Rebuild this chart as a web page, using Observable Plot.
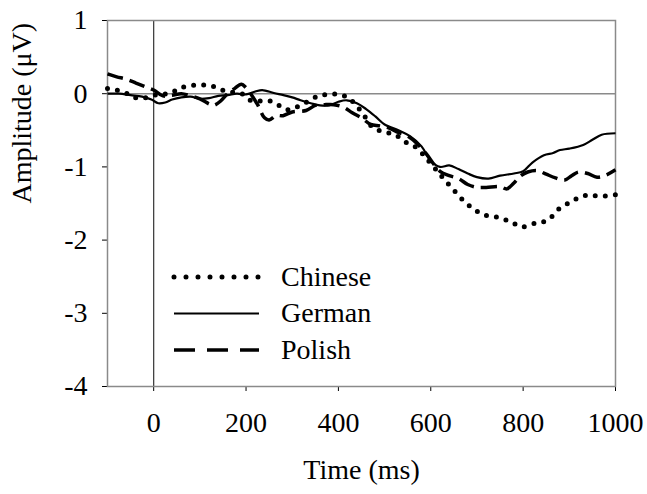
<!DOCTYPE html>
<html>
<head>
<meta charset="utf-8">
<script src="https://cdn.jsdelivr.net/npm/d3@7"></script>
<script src="https://cdn.jsdelivr.net/npm/@observablehq/plot@0.6"></script>
<style>
  html, body { margin: 0; padding: 0; background: #fff; }
  #wrap { position: relative; width: 647px; height: 494px; font-family: "Liberation Serif", "Times New Roman", serif; }
  #legend { position: absolute; left: 0; top: 0; }
</style>
</head>
<body>
<div id="wrap"></div>
<script>
// ---- data (time in ms, amplitude in µV) ----
const seriesNames = ["Chinese", "German", "Polish"];

const chineseT = [-100,-80,-60,-43,-22,0,20,40,58,80,105,128,148,170,191,209,231,253,274,290,310,330,357,381,403,422,440,455,476,500,525,548,570,590,613,628,653,671,696,718,740,761,779,797,819,838,857,874,891,908,927,947,970,1000];
const chineseV = [0.07,0.05,0.01,-0.05,-0.06,-0.02,-0.01,0.02,0.08,0.11,0.12,0.10,0.05,0.02,0.0,-0.09,-0.10,-0.10,-0.17,-0.22,-0.18,-0.12,-0.03,-0.01,-0.01,-0.06,-0.17,-0.29,-0.47,-0.52,-0.57,-0.67,-0.74,-0.88,-1.05,-1.16,-1.34,-1.46,-1.59,-1.66,-1.68,-1.72,-1.77,-1.82,-1.78,-1.76,-1.71,-1.59,-1.52,-1.46,-1.40,-1.39,-1.40,-1.38];

const germanT = [-100,-75,-50,-25,-5,10,25,40,60,80,100,120,140,160,180,200,220,235,260,281,300,318,340,360,380,400,418,440,460,480,500,530,555,580,600,620,640,660,680,700,725,750,780,800,820,845,865,880,900,930,950,970,1000];
const germanV = [0.0,0.0,-0.02,-0.04,-0.08,-0.13,-0.12,-0.08,-0.05,-0.04,-0.07,-0.06,-0.03,-0.02,0.0,-0.01,0.03,0.05,0.01,-0.02,-0.05,-0.09,-0.13,-0.16,-0.16,-0.11,-0.09,-0.13,-0.21,-0.31,-0.42,-0.50,-0.58,-0.72,-0.92,-1.0,-0.98,-1.03,-1.09,-1.14,-1.16,-1.12,-1.09,-1.06,-0.94,-0.84,-0.81,-0.77,-0.75,-0.70,-0.63,-0.56,-0.54];

const polishT = [-100,-80,-60,-40,-20,0,20,40,60,80,100,120,130,145,160,175,190,200,210,225,240,250,265,280,300,330,350,370,390,410,430,450,470,490,510,530,550,570,590,605,620,640,660,680,700,720,750,765,780,795,810,830,850,870,890,905,920,940,960,980,1000];
const polishV = [0.27,0.23,0.20,0.15,0.10,0.05,-0.03,-0.02,0.0,-0.03,-0.07,-0.14,-0.16,-0.10,0.0,0.07,0.13,0.08,0.0,-0.15,-0.33,-0.36,-0.30,-0.30,-0.25,-0.23,-0.16,-0.15,-0.15,-0.18,-0.26,-0.33,-0.42,-0.44,-0.47,-0.53,-0.58,-0.68,-0.82,-0.95,-1.06,-1.12,-1.16,-1.24,-1.28,-1.28,-1.27,-1.30,-1.22,-1.12,-1.07,-1.05,-1.10,-1.15,-1.18,-1.12,-1.07,-1.09,-1.14,-1.11,-1.04];

const xTicks = [0, 200, 400, 600, 800, 1000];
const yTicks = [-4, -3, -2, -1, 0, 1];

// ---- build table ----
const table = [
  ...chineseT.map((t, i) => ({series: "Chinese", t, v: chineseV[i]})),
  ...germanT.map((t, i) => ({series: "German", t, v: germanV[i]})),
  ...polishT.map((t, i) => ({series: "Polish", t, v: polishV[i]}))
];
const styles = {
  Chinese: {strokeWidth: 5, strokeDasharray: "0,10", strokeLinecap: "round", legendDash: "0,12"},
  German: {strokeWidth: 2.2, strokeDasharray: null, strokeLinecap: "butt", legendDash: null},
  Polish: {strokeWidth: 3.5, strokeDasharray: "16,7", strokeLinecap: "butt", legendDash: "21,12"}
};

const FS = 28;
const chart = Plot.plot({
  width: 647,
  height: 494,
  marginLeft: 107,
  marginRight: 32,
  marginTop: 20,
  marginBottom: 108,
  style: {fontFamily: "'Liberation Serif', 'Times New Roman', serif", fontSize: FS + "px", background: "#fff", color: "#000", overflow: "visible"},
  x: {domain: [-100, 1000], ticks: xTicks, tickSize: 5, tickPadding: 21, label: null, tickFormat: d => String(d)},
  y: {domain: [-4, 1], ticks: yTicks, tickSize: 5, tickPadding: 15, label: null, tickFormat: d => String(d)},
  marks: [
    Plot.ruleY([0], {stroke: "#8a8a8a", strokeWidth: 1.5}),
    Plot.ruleX([0], {stroke: "#333", strokeWidth: 1.2}),
    Plot.frame({stroke: "#8a8a8a", strokeWidth: 1.5}),
    ...seriesNames.map(name => Plot.line(table.filter(d => d.series === name), {
      x: "t", y: "v", stroke: "black", curve: "catmull-rom",
      strokeWidth: styles[name].strokeWidth,
      strokeDasharray: styles[name].strokeDasharray,
      strokeLinecap: styles[name].strokeLinecap
    })),
    Plot.text(["Time (ms)"], {text: d => d, frameAnchor: "bottom", dy: 92, fontSize: FS, fill: "black"}),
    Plot.text(["Amplitude (μV)"], {text: d => d, frameAnchor: "left", rotate: -90, dx: -85, fontSize: FS, fill: "black"})
  ]
});
const wrap = document.getElementById("wrap");
wrap.appendChild(chart);

// ---- legend overlay ----
const leg = d3.select(wrap).append("svg")
  .attr("id", "legend").attr("width", 647).attr("height", 494);
const rowH = 36.5, y0 = 277;
seriesNames.forEach((name, i) => {
  const y = y0 + i * rowH;
  const s = styles[name];
  leg.append("line")
    .attr("x1", 174).attr("x2", 259).attr("y1", y).attr("y2", y)
    .attr("stroke", "black")
    .attr("stroke-width", s.strokeWidth)
    .attr("stroke-dasharray", s.legendDash)
    .attr("stroke-linecap", s.strokeLinecap);
  leg.append("text")
    .attr("x", 281).attr("y", y + 0.32 * FS)
    .attr("font-family", "'Liberation Serif', 'Times New Roman', serif")
    .attr("font-size", FS)
    .attr("fill", "black")
    .text(name);
});
</script>
</body>
</html>
